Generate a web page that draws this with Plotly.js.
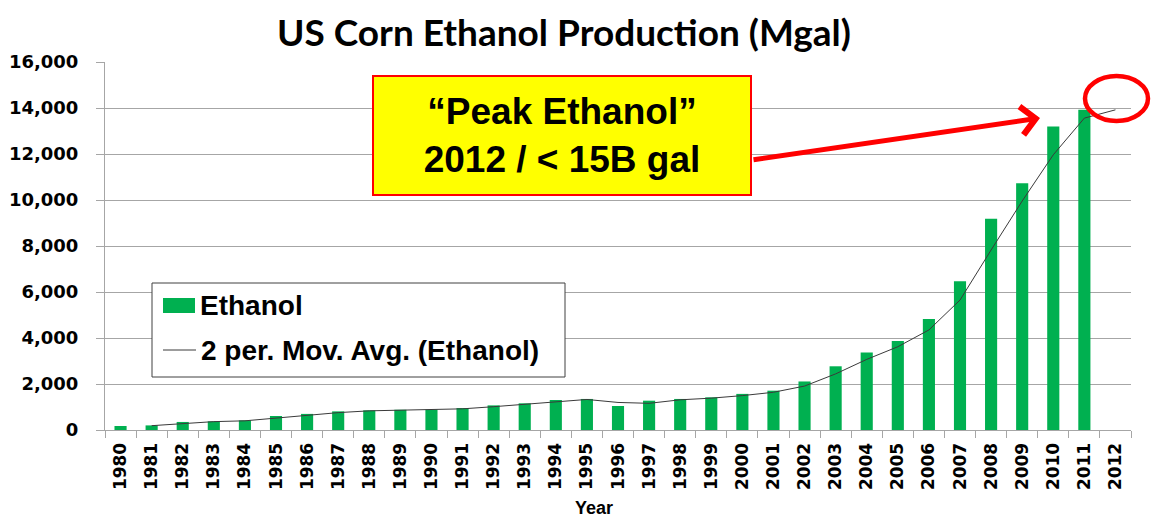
<!DOCTYPE html>
<html>
<head>
<meta charset="utf-8">
<script src="https://cdn.plot.ly/plotly-3.0.1.min.js"></script>
<style>html,body{margin:0;padding:0;background:#fff;}#chart{width:1151px;height:520px;}</style>
</head>
<body>
<div id="chart"></div>
<script>
// ---- data ----
const years = ["1980","1981","1982","1983","1984","1985","1986","1987","1988","1989","1990","1991","1992","1993","1994","1995","1996","1997","1998","1999","2000","2001","2002","2003","2004","2005","2006","2007","2008","2009","2010","2011","2012"];
const ethanol = [175,200,350,377,420,610,700,810,855,880,885,955,1070,1160,1305,1350,1045,1275,1350,1420,1570,1710,2110,2770,3370,3870,4830,6470,9180,10730,13200,13920,null];
const maYears = ["1981","1982","1983","1984","1985","1986","1987","1988","1989","1990","1991","1992","1993","1994","1995","1996","1997","1998","1999","2000","2001","2002","2003","2004","2005","2006","2007","2008","2009","2010","2011","2012"];
const movAvg = [188,275,364,399,515,655,755,833,868,883,920,1013,1115,1233,1328,1198,1160,1313,1385,1495,1640,1910,2440,3070,3620,4350,5650,7825,9955,11965,13560,13920];
const titleText = "US Corn Ethanol Production (Mgal)";
const seriesNames = ["Ethanol", "2 per. Mov. Avg. (Ethanol)"];
const calloutLines = ["\u201cPeak Ethanol\u201d", "2012 / < 15B gal"];
const xAxisTitle = "Year";

// ---- layout helpers (pixel -> paper) ----
const W = 1151, H = 520, ML = 105, MR = 20, MT = 62, MB = 90;
const PW = W - ML - MR, PH = H - MT - MB;
const px = x => (x - ML) / PW;
const py = y => (H - MB - y) / PH;

const green = "#00B050";
const grid = "#A6A6A6";

const traces = [
  {type: "bar", x: years, y: ethanol, name: seriesNames[0], marker: {color: green}, showlegend: false},
  {type: "scatter", mode: "lines", x: maYears, y: movAvg, name: seriesNames[1], line: {color: "#3a3a3a", width: 1}, showlegend: false}
];

const layout = {
  width: W, height: H,
  margin: {l: ML, r: MR, t: MT, b: MB, pad: 0},
  paper_bgcolor: "#fff", plot_bgcolor: "#fff",
  bargap: 0.61,
  showlegend: false,
  title: {text: titleText, x: 564 / W, xanchor: "center", y: 1 - 33 / H, yanchor: "middle",
          font: {family: "Lato", size: 37, weight: "bold", color: "#000"}},
  xaxis: {type: "category", categoryorder: "array", categoryarray: years,
          tickangle: -90, tickson: "boundaries", ticks: "outside", ticklen: 7, tickcolor: grid,
          showline: true, linecolor: grid, linewidth: 1, showgrid: false,
          ticklabelstandoff: 5,
          tickfont: {family: "DejaVu Sans", size: 17, weight: "bold", color: "#000"}},
  yaxis: {range: [0, 16000], dtick: 2000, tickformat: ",d", ticks: "outside", ticklen: 8, tickcolor: grid,
          showline: true, linecolor: grid, linewidth: 1, gridcolor: grid, gridwidth: 1, zeroline: false,
          ticklabelstandoff: 14,
          tickfont: {family: "DejaVu Sans", size: 18, weight: "bold", color: "#000"}},
  shapes: [
    // legend box
    {type: "rect", xref: "paper", yref: "paper", x0: px(152), x1: px(565), y0: py(377), y1: py(283),
     line: {color: "#404040", width: 1}, fillcolor: "#fff", layer: "above"},
    {type: "rect", xref: "paper", yref: "paper", x0: px(163), x1: px(195), y0: py(313), y1: py(298),
     line: {width: 0}, fillcolor: green, layer: "above"},
    {type: "line", xref: "paper", yref: "paper", x0: px(163), x1: px(196), y0: py(350), y1: py(350),
     line: {color: "#3a3a3a", width: 1}, layer: "above"},
    // red ellipse
    {type: "circle", xref: "paper", yref: "paper", x0: px(1085), x1: px(1148), y0: py(121), y1: py(76),
     line: {color: "#FF0000", width: 4.5}, layer: "above"}
  ],
  annotations: [
    {xref: "paper", yref: "paper", x: px(198), y: py(305), xanchor: "left", yanchor: "middle", showarrow: false,
     text: seriesNames[0], font: {family: "Liberation Sans", size: 28, weight: "bold", color: "#000"}},
    {xref: "paper", yref: "paper", x: px(199), y: py(350), xanchor: "left", yanchor: "middle", showarrow: false,
     text: seriesNames[1], font: {family: "Liberation Sans", size: 28, weight: "bold", color: "#000"}},
    {xref: "paper", yref: "paper", x: px(594), y: py(520), xanchor: "center", yanchor: "bottom", showarrow: false,
     text: xAxisTitle, font: {family: "Liberation Sans", size: 18, weight: "bold", color: "#000"}},
    // arrow
    {xref: "paper", yref: "paper", x: px(1040), y: py(118), ax: 752 - 1040, ay: 160 - 118,
     text: "", showarrow: true, arrowhead: 4, arrowsize: 1.1, arrowwidth: 5, arrowcolor: "#FF0000", standoff: 0},
    // callout box
    {xref: "paper", yref: "paper", x: px(562), y: py(135.5), xanchor: "center", yanchor: "middle", showarrow: false,
     text: calloutLines.join("<br>"), width: 372, height: 113, borderpad: 2, borderwidth: 2,
     bordercolor: "#FF0000", bgcolor: "#FFFF00",
     font: {family: "Liberation Sans", size: 37, weight: "bold", color: "#000"}}
  ]
};

Plotly.newPlot("chart", traces, layout, {displayModeBar: false, staticPlot: true});
</script>
</body>
</html>
